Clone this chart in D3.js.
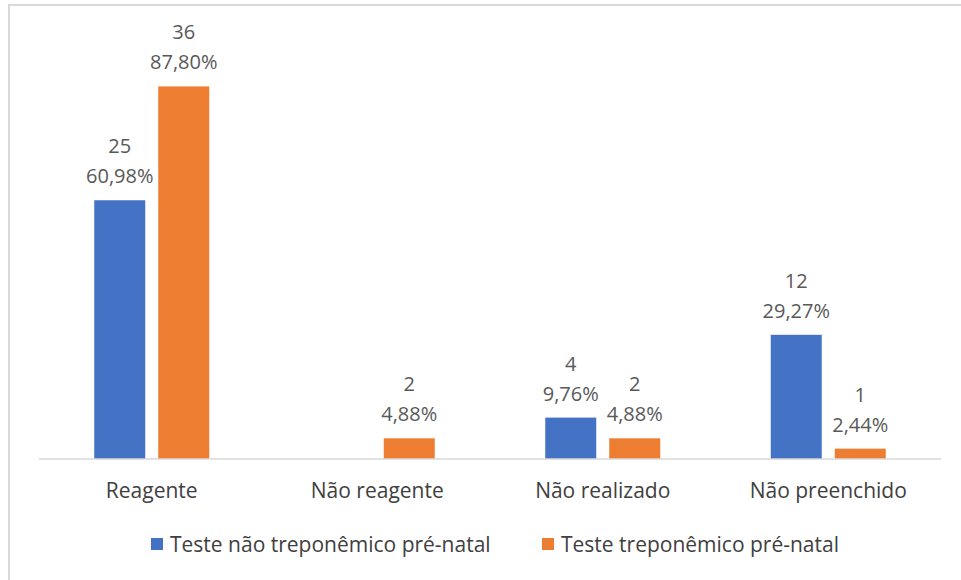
<!DOCTYPE html>
<meta charset="utf-8">
<style>
body { margin: 0; background: #fff; }
svg { font-family: "Open Sans", sans-serif; }
.frame { fill: none; stroke: #d9d9d9; stroke-width: 2; }
.baseline { stroke: #d9d9d9; stroke-width: 1.5; }
.value { fill: #595959; font-size: 20px; text-anchor: middle; }
.cat { fill: #404040; font-size: 21px; text-anchor: middle; }
.legend text { fill: #404040; font-size: 21px; }
</style>
<svg width="961" height="580"></svg>
<script src="https://cdn.jsdelivr.net/npm/d3@7"></script>
<script>

var categories = ["Reagente", "Não reagente", "Não realizado", "Não preenchido"];
var seriesNames = ["Teste não treponêmico pré-natal", "Teste treponêmico pré-natal"];
var naoTrep = [25, 0, 4, 12];
var trep = [36, 2, 2, 1];
var naoTrepPct = ["60,98%", "0,00%", "9,76%", "29,27%"];
var trepPct = ["87,80%", "4,88%", "4,88%", "2,44%"];
var colors = ["#4472c4", "#ed7d31"];

var svg = d3.select("svg");

// chart frame (only top and left edges show in the crop)
svg.append("path")
    .attr("class", "frame")
    .attr("d", "M9,590 V5 H970");

var x0 = d3.scaleBand()
    .domain(categories)
    .range([39, 941])
    .paddingInner(0.49)
    .paddingOuter(0.245);

var x1 = d3.scaleBand()
    .domain([0, 1])
    .range([0, x0.bandwidth()])
    .paddingInner(0.203);

var y = d3.scaleLinear()
    .domain([0, 40])
    .range([459, 45]);

var rows = categories.map(function(c, i) {
  return [
    { cat: c, s: 0, v: naoTrep[i], pct: naoTrepPct[i] },
    { cat: c, s: 1, v: trep[i], pct: trepPct[i] }
  ];
});

var groups = svg.append("g")
  .selectAll("g")
  .data(rows)
  .enter().append("g")
    .attr("transform", function(d, i) { return "translate(" + x0(categories[i]) + ",0)"; });

groups.selectAll("rect")
    .data(function(d) { return d; })
  .enter().append("rect")
    .attr("x", function(d) { return x1(d.s); })
    .attr("width", x1.bandwidth())
    .attr("y", function(d) { return y(d.v); })
    .attr("height", function(d) { return y(0) - y(d.v); })
    .attr("fill", function(d) { return colors[d.s]; });

var labels = groups.selectAll("text.value")
    .data(function(d) { return d.filter(function(e) { return e.v > 0; }); })
  .enter().append("text")
    .attr("class", "value")
    .attr("x", function(d) { return x1(d.s) + x1.bandwidth() / 2; });

labels.append("tspan")
    .attr("x", function(d) { return x1(d.s) + x1.bandwidth() / 2; })
    .attr("y", function(d) { return y(d.v) - 47; })
    .text(function(d) { return d.v; });

labels.append("tspan")
    .attr("x", function(d) { return x1(d.s) + x1.bandwidth() / 2; })
    .attr("y", function(d) { return y(d.v) - 17; })
    .text(function(d) { return d.pct; });

svg.append("line")
    .attr("class", "baseline")
    .attr("x1", 39).attr("x2", 941)
    .attr("y1", y(0)).attr("y2", y(0));

svg.append("g")
  .selectAll("text")
  .data(categories)
  .enter().append("text")
    .attr("class", "cat")
    .attr("x", function(d) { return x0(d) + x0.bandwidth() / 2; })
    .attr("y", 498)
    .text(function(d) { return d; });

// legend
var legendX = [151, 542];
var legend = svg.append("g")
    .attr("class", "legend")
  .selectAll("g")
  .data(seriesNames)
  .enter().append("g")
    .attr("transform", function(d, i) { return "translate(" + legendX[i] + ",538)"; });

legend.append("rect")
    .attr("width", 12)
    .attr("height", 12)
    .attr("fill", function(d, i) { return colors[i]; });

legend.append("text")
    .attr("x", 19)
    .attr("y", 14)
    .text(function(d) { return d; });

</script>
